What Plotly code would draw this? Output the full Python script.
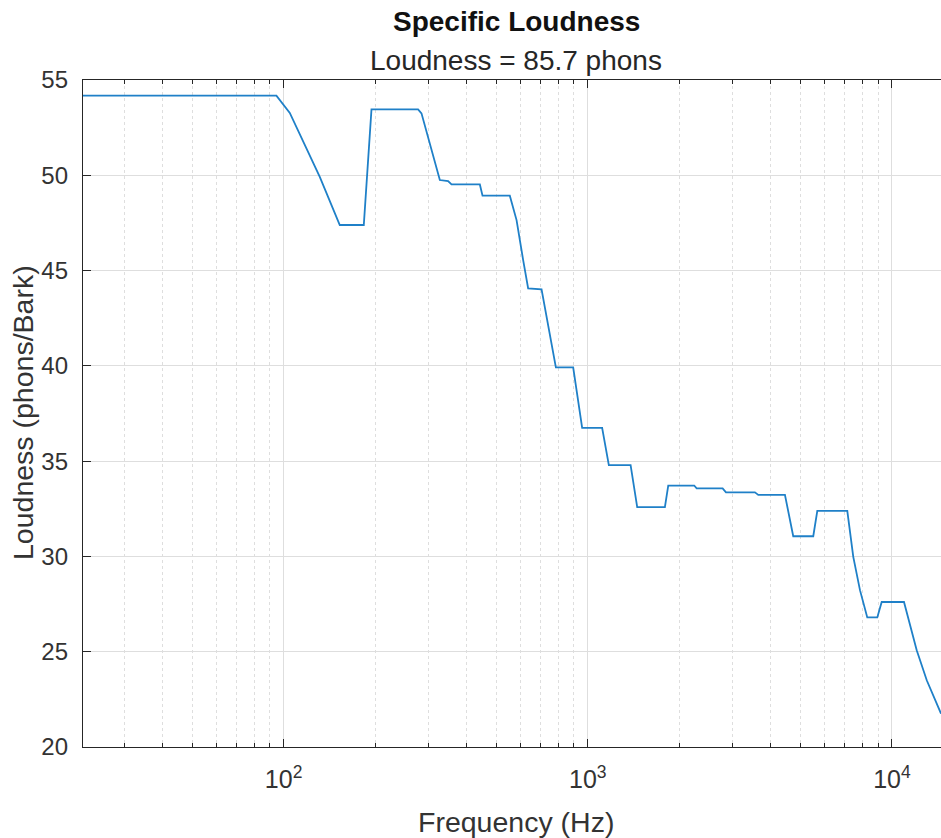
import plotly.graph_objects as go
import math

# Data
freq_hz = [21.9, 94.7, 104.8, 131.5, 153.0, 183.5, 194.5, 276.8, 284.0, 310.1,
           326.3, 347.4, 356.5, 441.8, 450.8, 554.3, 583.3, 613.2, 636.8, 704.8,
           785.5, 895.4, 958.5, 1115, 1173, 1383, 1454, 1793, 1839, 2239,
           2280, 2776, 2847, 3545, 3636, 4449, 4738, 5513, 5684, 7133,
           7464, 7852, 8298, 8953, 9255, 10957, 12064, 13017, 14500]
loudness = [54.18, 54.18, 53.27, 49.92, 47.39, 47.39, 53.46, 53.46, 53.25, 50.97,
            49.75, 49.70, 49.52, 49.52, 48.93, 48.93, 47.65, 45.55, 44.06, 44.01,
            39.92, 39.92, 36.75, 36.75, 34.79, 34.79, 32.59, 32.59, 33.72, 33.72,
            33.57, 33.57, 33.36, 33.36, 33.23, 33.23, 31.06, 31.06, 32.39, 32.39,
            29.98, 28.23, 26.80, 26.80, 27.61, 27.61, 25.08, 23.50, 21.75]

x_major = [100, 1000, 10000]
x_major_text = ["10<sup>2</sup>", "10<sup>3</sup>", "10<sup>4</sup>"]
x_minor = [m * d for d in (10, 100, 1000) for m in range(2, 10)]
y_ticks = [20, 25, 30, 35, 40, 45, 50, 55]

title_text = "<b>Specific Loudness</b>"
subtitle_text = "Loudness = 85.7 phons"
x_label = "Frequency (Hz)"
y_label = "Loudness (phons/Bark)"

FONT = "Liberation Sans, Arial, sans-serif"
AX = "#262626"
TXT = "#333333"
GRID = "#dedede"

fig = go.Figure()
fig.add_trace(go.Scatter(x=freq_hz, y=loudness, mode="lines",
                         line=dict(color="#1f80c8", width=1.8),
                         showlegend=False, hoverinfo="skip"))

W, H = 941, 838
ml, mr, mt, mb = 83, 0, 80, 91
pw, ph = W - ml - mr, H - mt - mb

def px_x(p):
    return (p - ml) / pw

def px_y(p):
    return 1 - (p - mt) / ph

fig.update_layout(
    width=W, height=H,
    margin=dict(l=ml, r=mr, t=mt, b=mb, autoexpand=False),
    paper_bgcolor="white", plot_bgcolor="white",
    font=dict(family=FONT, color=TXT),
    xaxis=dict(
        type="log", range=[math.log10(21.9), math.log10(14500)],
        automargin=False,
        tickmode="array", tickvals=x_major, ticktext=x_major_text,
        ticks="inside", ticklen=8, tickwidth=1.2, tickcolor=AX,
        showline=True, linecolor=AX, linewidth=1.3, mirror="ticks",
        showgrid=True, gridcolor=GRID, gridwidth=1,
        tickfont=dict(size=25, family=FONT, color=TXT),
        ticklabelstandoff=10,
        zeroline=False,
        minor=dict(tickmode="array", tickvals=x_minor, ticks="inside",
                   ticklen=4, tickcolor=AX, tickwidth=1,
                   showgrid=True, gridcolor=GRID, griddash="dot", gridwidth=1),
    ),
    yaxis=dict(
        range=[20, 55], tickmode="array", tickvals=y_ticks,
        automargin=False,
        ticks="inside", ticklen=8, tickwidth=1.2, tickcolor=AX,
        showline=True, linecolor=AX, linewidth=1.3,
        showgrid=True, gridcolor=GRID, gridwidth=1,
        tickfont=dict(size=24, family=FONT, color=TXT),
        ticklabelstandoff=9,
        zeroline=False,
    ),
    annotations=[
        dict(text=title_text, xref="paper", yref="paper", x=px_x(516), y=px_y(21),
             xanchor="center", yanchor="middle", showarrow=False,
             font=dict(size=28, family=FONT, color="#111111")),
        dict(text=subtitle_text, xref="paper", yref="paper", x=px_x(516), y=px_y(60),
             xanchor="center", yanchor="middle", showarrow=False,
             font=dict(size=28, family=FONT, color=AX)),
        dict(text=x_label, xref="paper", yref="paper", x=px_x(516), y=px_y(822),
             xanchor="center", yanchor="middle", showarrow=False,
             font=dict(size=28.5, family=FONT, color=TXT)),
        dict(text=y_label, xref="paper", yref="paper", x=px_x(23), y=px_y(413),
             xanchor="center", yanchor="middle", showarrow=False, textangle=-90,
             font=dict(size=28.5, family=FONT, color=TXT)),
    ],
)

fig.write_html("out.html", config={"displayModeBar": False},
               post_script="document.body.style.margin='0';")
